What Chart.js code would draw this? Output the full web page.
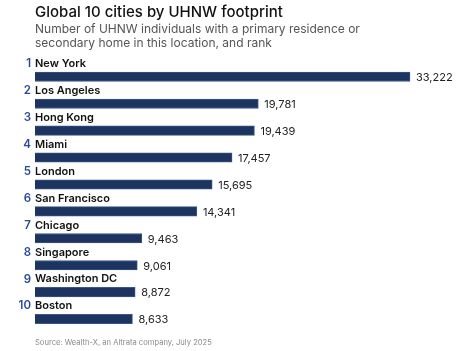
<!DOCTYPE html>
<html lang="en">
<head>
    <meta charset="UTF-8">
    <script src="https://cdn.jsdelivr.net/npm/chart.js@4.4.1/dist/chart.umd.min.js"></script>
    <style>
        html, body { margin: 0; padding: 0; background: #fff; }
        #wrap { width: 465px; height: 351px; }
    </style>
</head>
<body>
    <div id="wrap"><canvas id="myChart" width="465" height="351"></canvas></div>
    <script>
        const cities = ['New York', 'Los Angeles', 'Hong Kong', 'Miami', 'London',
            'San Francisco', 'Chicago', 'Singapore', 'Washington DC', 'Boston'];
        const ranks = ['1', '2', '3', '4', '5', '6', '7', '8', '9', '10'];
        const uhnw = [33222, 19781, 19439, 17457, 15695, 14341, 9463, 9061, 8872, 8633];

        const FONT = 'Inter, "Open Sans", sans-serif';

        // city names + rank above each bar, value to the right of it
        const barLabels = {
            id: 'barLabels',
            afterDatasetsDraw(chart) {
                const ctx = chart.ctx;
                const meta = chart.getDatasetMeta(0);
                ctx.save();
                ctx.textBaseline = 'middle';
                meta.data.forEach((bar, i) => {
                    const ly = bar.y - 13;
                    ctx.font = '600 11.5px ' + FONT;
                    ctx.fillStyle = '#2b4a9c';
                    ctx.textAlign = 'right';
                    ctx.fillText(ranks[i], 31, ly);
                    ctx.font = '600 11px ' + FONT;
                    ctx.fillStyle = '#111';
                    ctx.textAlign = 'left';
                    ctx.fillText(cities[i], 35, ly);
                    ctx.font = '11px ' + FONT;
                    ctx.fillStyle = '#222';
                    ctx.fillText(uhnw[i].toLocaleString('en-US'), bar.x + 6, bar.y + 1);
                });
                ctx.font = '7.6px ' + FONT;
                ctx.fillStyle = '#8a8a8a';
                ctx.textAlign = 'left';
                ctx.fillText('Source: Wealth-X, an Altrata company, July 2025', 35, 343);
                ctx.restore();
            }
        };

        const ctx = document.getElementById('myChart');

        new Chart(ctx, {
            type: 'bar',
            data: {
                labels: cities,
                datasets: [{
                    data: uhnw,
                    backgroundColor: '#1d3461',
                    borderColor: '#3b5586',
                    borderWidth: 1,
                    barThickness: 9.5
                }]
            },
            options: {
                indexAxis: 'y',
                responsive: false,
                animation: false,
                layout: { padding: { left: 35, right: 5, top: 0, bottom: 18.5 } },
                scales: {
                    x: { display: false, min: 0, max: 37650 },
                    y: { display: false }
                },
                plugins: {
                    legend: { display: false },
                    tooltip: { enabled: false },
                    title: {
                        display: true,
                        text: 'Global 10 cities by UHNW footprint',
                        align: 'start',
                        color: '#111',
                        font: { family: FONT, size: 15, weight: '500', lineHeight: 1.25 },
                        padding: { top: 3, bottom: 0 }
                    },
                    subtitle: {
                        display: true,
                        text: ['Number of UHNW individuals with a primary residence or',
                            'secondary home in this location, and rank'],
                        align: 'start',
                        color: '#555',
                        font: { family: FONT, size: 12, lineHeight: 1.17 },
                        padding: { top: 0.5, bottom: 13 }
                    }
                }
            },
            plugins: [barLabels]
        });
    </script>
</body>
</html>
